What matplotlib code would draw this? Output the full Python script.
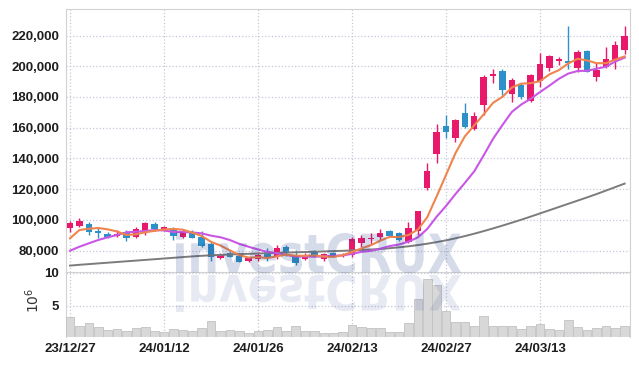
import matplotlib
matplotlib.use("Agg")
import matplotlib.pyplot as plt
import numpy as np
import pandas as pd
from matplotlib.textpath import TextPath
from matplotlib.patches import PathPatch
from matplotlib.font_manager import FontProperties
from matplotlib.transforms import Affine2D

# ------------------------------------------------------------------
# Data (daily candles, 60 sessions)
# ------------------------------------------------------------------
opens = [94800, 95900, 97300, 92900, 90800, 89300, 92100, 88600, 92200, 97300,
         93400, 93400, 89000, 92200, 89000, 84200, 74900, 78200, 76400, 73400,
         74500, 79200, 76400, 82500, 77100, 74300, 79200, 74300, 78200, 76400,
         77100, 84700, 87300, 88600, 92700, 91200, 85700, 92900, 120500, 142800,
         161100, 153500, 169300, 158900, 174800, 193600, 196900, 181900, 187800, 177600,
         190400, 199000, 203600, 203400, 198700, 209900, 193200, 199700, 204100, 210600]
highs = [99400, 101200, 98800, 95300, 92100, 93400, 93400, 95100, 98800, 98800,
         96000, 95300, 93800, 93400, 92700, 86000, 78600, 80300, 78200, 75600,
         79200, 81600, 83600, 83600, 80300, 78200, 80300, 78600, 79200, 78600,
         88800, 90100, 91600, 93800, 93400, 92100, 98400, 105700, 137000, 162400,
         168200, 165600, 176100, 170000, 194300, 198000, 198200, 192500, 188900, 194900,
         208600, 207300, 206200, 226200, 210600, 210600, 202100, 212700, 216400, 226200]
lows = [91900, 95500, 89900, 88300, 88000, 89000, 86400, 88000, 90100, 92700,
        92900, 86800, 88300, 88000, 82100, 73400, 74700, 75600, 72500, 72700,
        73400, 73400, 74700, 76400, 70600, 73800, 76000, 73400, 76000, 75600,
        75600, 82100, 84200, 86800, 89300, 86400, 85100, 90100, 119400, 137000,
        153300, 150500, 159800, 158500, 168200, 189300, 181300, 176500, 178500, 176900,
        186700, 196900, 200800, 198000, 196400, 196200, 190600, 199000, 198000, 208000]
closes = [97700, 99200, 91900, 91200, 89000, 90600, 88000, 94000, 97700, 93800,
          95100, 89600, 91600, 88300, 82900, 75800, 77500, 76000, 72700, 74900,
          77100, 74900, 81400, 78200, 71700, 76600, 76400, 77500, 76900, 77300,
          87300, 87900, 87900, 91600, 89600, 86800, 94500, 105700, 131800, 157200,
          157200, 165000, 160600, 167600, 192800, 194900, 184500, 191000, 180200, 194300,
          201500, 206700, 204700, 201900, 209500, 196400, 197500, 204500, 213800, 219900]
# volume in millions of shares
volumes = [3.27, 1.92, 2.36, 1.78, 1.39, 1.49, 1.20, 1.63, 1.78, 1.20,
           1.06, 1.49, 1.35, 1.20, 1.63, 2.79, 1.25, 1.35, 1.20, 0.91,
           1.20, 1.35, 1.78, 1.20, 1.92, 1.20, 1.20, 0.91, 0.91, 1.06,
           2.07, 1.78, 1.63, 1.63, 1.06, 1.06, 2.36, 6.11, 9.13, 8.13,
           4.23, 2.50, 2.64, 1.92, 3.51, 1.92, 1.92, 1.92, 1.49, 1.92,
           2.21, 1.49, 1.35, 2.93, 1.78, 1.35, 1.63, 1.92, 1.63, 1.92]

# moving-average values before the window is full
ma5_head = [87940, 93350, 94200, 94650]
ma10_head = [79870, 82470, 84690, 86840, 88600, 90100, 91850, 92240, 92700]
# 60-day average (needs history that is not on the chart, read directly)
ma60 = [70170, 70690, 71140, 71600, 72060, 72510, 72970, 73420, 73880, 74330,
        74790, 75250, 75700, 76160, 76550, 76870, 77130, 77400, 77660, 77850,
        78050, 78240, 78440, 78630, 78830, 79020, 79220, 79410, 79610, 79800,
        80070, 80330, 80650, 81040, 81500, 82080, 82740, 83520, 84430, 85470,
        86640, 87940, 89380, 90940, 92630, 94390, 96220, 98100, 100060, 102080,
        104160, 106240, 108330, 110410, 112500, 114580, 116730, 119010, 121290, 123570]

date_ticks = [0, 10, 20, 30, 40, 50]
date_labels = ["23/12/27", "24/01/12", "24/01/26", "24/02/13", "24/02/27", "24/03/13"]
price_ticks = [80000, 100000, 120000, 140000, 160000, 180000, 200000, 220000]
vol_ticks = [5, 10]

UP = "#e8196a"
DOWN = "#2e90c8"
GRID = "#c5c8d8"
SPINE = "#d2d2d2"
LABEL_FONT = ["Liberation Sans", "DejaVu Sans"]
LABEL_SIZE = 9.5

# ------------------------------------------------------------------
# Derived series
# ------------------------------------------------------------------
close_s = pd.Series(closes, dtype=float)
ma5 = close_s.rolling(5).mean().to_numpy()
ma5[:len(ma5_head)] = ma5_head
ma10 = close_s.rolling(10).mean().to_numpy()
ma10[:len(ma10_head)] = ma10_head

x = np.arange(len(closes))
o = np.array(opens, dtype=float)
c = np.array(closes, dtype=float)
up = c >= o
colors = np.where(up, UP, DOWN)
body_lo = np.minimum(o, c)
body_h = np.maximum(np.abs(c - o), 900)

# ------------------------------------------------------------------
# Figure
# ------------------------------------------------------------------
fig = plt.figure(figsize=(6.39, 3.66), dpi=100)
W, H = 639, 366
L, R = 66, 630
ax = fig.add_axes([L / W, 1 - 272 / H, (R - L) / W, 263 / H])
axv = fig.add_axes([L / W, 1 - 337 / H, (R - L) / W, 65 / H], sharex=ax)

ax.vlines(x, lows, highs, colors=colors, lw=1.0, zorder=3)
ax.bar(x, body_h, bottom=body_lo, width=0.68, color=colors, zorder=4)
ax.plot(x, ma60, color="#7c7c7c", lw=1.4, zorder=5)
ax.plot(x, ma10, color="#c957e6", lw=1.5, zorder=5)
ax.plot(x, ma5, color="#f0844e", lw=1.5, zorder=6)

ax.set_xlim(-0.43, 59.57)
ax.set_ylim(66000, 237300)
ax.set_yticks(price_ticks)
ax.set_yticklabels([f"{v:,}" for v in price_ticks])
ax.set_xticks(date_ticks)
ax.tick_params(axis="x", labelbottom=False, length=0)
ax.tick_params(axis="y", length=0, pad=5, labelsize=LABEL_SIZE, labelcolor="#1e1e1e")
for lab in ax.get_yticklabels():
    lab.set_fontfamily(LABEL_FONT)
    lab.set_fontweight("bold")
ax.grid(True, color=GRID, linestyle=":", lw=0.9)
ax.set_axisbelow(True)
for side in ["left", "top", "right"]:
    ax.spines[side].set_color(SPINE)
ax.spines["bottom"].set_visible(False)

axv.bar(x, volumes, width=0.92, color="#d8d8d8", edgecolor="#c2c2c2", lw=0.6, zorder=3)
axv.set_ylim(0.3, 10.15)
axv.set_yticks(vol_ticks)
axv.set_yticklabels([str(v) for v in vol_ticks])
axv.set_xticks(date_ticks)
axv.set_xticklabels(date_labels)
axv.tick_params(length=0, labelsize=LABEL_SIZE, labelcolor="#1e1e1e")
axv.tick_params(axis="y", pad=5)
axv.tick_params(axis="x", pad=4)
for lab in axv.get_yticklabels() + axv.get_xticklabels():
    lab.set_fontfamily(LABEL_FONT)
    lab.set_fontweight("bold")
axv.grid(True, color=GRID, linestyle=":", lw=0.9)
axv.set_axisbelow(True)
for side in ["left", "top", "right"]:
    axv.spines[side].set_color(SPINE)
axv.spines["bottom"].set_visible(False)

fig.text(33 / W, 1 - 300 / H, r"$10^6$", rotation=90, ha="center", va="center",
         fontsize=10, color="#333333")

# ------------------------------------------------------------------
# Watermark with its mirrored copy
# ------------------------------------------------------------------
tp = TextPath((0, 0), "investCRUX", size=1,
              prop=FontProperties(family="DejaVu Sans", weight="bold"))
bb = tp.get_extents()
sx = 285 / bb.width
x0 = 176 - bb.x0 * sx
sy = 40.5 / bb.y1
mark = Affine2D().scale(sx / 100, sy / 100).translate(x0 / 100, (H - 272.5) / 100)
fig.add_artist(PathPatch(tp, transform=mark + fig.dpi_scale_trans,
                         facecolor="#1e3a8a", edgecolor="none", alpha=0.18, zorder=10))
sy_r = 37 / bb.y1
mirror = Affine2D().scale(sx / 100, -sy_r / 100).translate(x0 / 100, (H - 275) / 100)
fig.add_artist(PathPatch(tp, transform=mirror + fig.dpi_scale_trans,
                         facecolor="#1e3a8a", edgecolor="none", alpha=0.10, zorder=10))

fig.savefig("out.png", dpi=100, facecolor="white")
